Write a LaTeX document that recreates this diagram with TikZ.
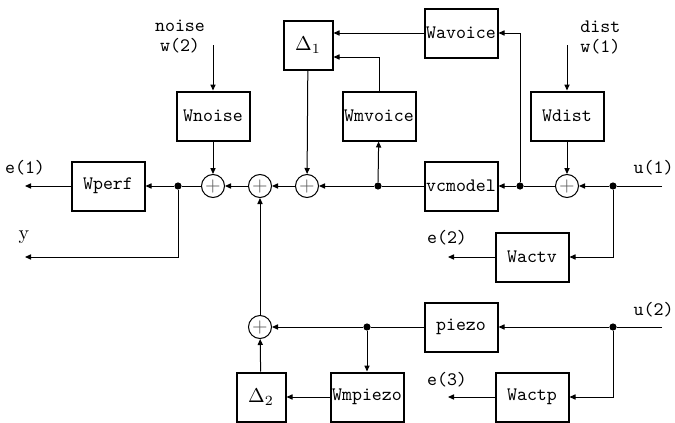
\documentclass[tikz,border=0pt]{standalone}
\usetikzlibrary{arrows.meta}
\tikzset{
    block/.style={
        draw, line width=1pt,
        minimum width=36.5pt, minimum height=24.5pt, inner sep=0pt,
        font=\ttfamily\fontsize{9.5}{11}\selectfont
    },
    delta block/.style={block, minimum width=24.5pt, minimum height=24.5pt, font=\fontsize{10}{12}\selectfont},
    summer/.style={draw, circle, line width=0.5pt, minimum size=11.5pt, inner sep=0pt, text=black!65},
    tap/.style={circle, fill, minimum size=3.6pt, inner sep=0pt},
    wire/.style={line width=0.5pt},
    signal/.style={wire, -{Triangle[length=3pt,width=2.6pt]}},
    port label/.style={font=\ttfamily\fontsize{9.5}{11}\selectfont, inner sep=0pt}
}
\begin{document}
\begin{tikzpicture}[x=0.5pt, y=-0.5pt]
    \useasboundingbox (0,0) rectangle (675,423);
    % blocks
    \node[block] (wperf) at (108,186) {Wperf};
    \node[block] (wnoise) at (213,116) {Wnoise};
    \node[delta block] (delta1) at (308,45) {$\Delta_1$};
    \node[block] (wavoice) at (461,33) {Wavoice};
    \node[block] (wmvoice) at (379,116) {Wmvoice};
    \node[block] (vcmodel) at (461,186) {vcmodel};
    \node[block] (wdist) at (567,116) {Wdist};
    \node[block] (wactv) at (532,257) {Wactv};
    \node[block] (piezo) at (461,327) {piezo};
    \node[block] (wmpiezo) at (367,397) {Wmpiezo};
    \node[block] (wactp) at (532,397) {Wactp};
    \node[delta block] (delta2) at (261,397) {$\Delta_2$};
    % summing junctions
    \node[summer] (sum1) at (213,186) {$+$};
    \node[summer] (sum2) at (260,186) {$+$};
    \node[summer] (sum3) at (307,186) {$+$};
    \node[summer] (sum4) at (567,186) {$+$};
    \node[summer] (sum5) at (260,327) {$+$};
    % branch points
    \node[tap] (tapy) at (178,186) {};
    \node[tap] (tapv) at (378,186) {};
    \node[tap] (tapvc) at (520,186) {};
    \node[tap] (tapu1) at (613,186) {};
    \node[tap] (tapp) at (367,327) {};
    \node[tap] (tapu2) at (613,327) {};
    % ports
    \node[port label, align=center] (noise) at (180,37) {noise\\[-1pt]w(2)};
    \node[port label, align=left, anchor=west] (dist) at (580,37) {dist\\[-1pt]w(1)};
    \node[port label] (e1) at (25,168) {e(1)};
    \node[inner sep=0pt, font=\fontsize{10}{12}\selectfont] (y) at (24,237) {y};
    \node[port label, anchor=east] (u1) at (674,168) {u(1)};
    \node[port label] (e2) at (447,238) {e(2)};
    \node[port label, anchor=east] (u2) at (674,310) {u(2)};
    \node[port label] (e3) at (447,380) {e(3)};
    \coordinate (noisein) at (213,45);
    \coordinate (distin) at (567,45);
    \coordinate (e1end) at (25,186);
    \coordinate (yend) at (25,257);
    \coordinate (u1in) at (662,186);
    \coordinate (e2end) at (448,257);
    \coordinate (u2in) at (662,327);
    \coordinate (e3end) at (448,397);
    % upper loop
    \draw[signal] (noisein) -- (wnoise);
    \draw[signal] (wnoise) -- (sum1);
    \draw[wire] (vcmodel) -- (tapv);
    \draw[signal] (tapv) -- (sum3);
    \draw[signal] (tapv) -- (wmvoice);
    \draw[signal] (wmvoice.north) |- ([yshift=-6pt]delta1.east);
    \draw[signal] (wavoice) -- (delta1.east |- wavoice.west);
    \draw[signal] (delta1) -- (sum3);
    \draw[signal] (sum3) -- (sum2);
    \draw[signal] (sum2) -- (sum1);
    \draw[wire] (sum1) -- (tapy);
    \draw[signal] (tapy) -- (wperf);
    \draw[signal] (wperf) -- (e1end);
    \draw[signal] (tapy) |- (yend);
    \draw[wire] (u1in) -- (tapu1);
    \draw[signal] (tapu1) -- (sum4);
    \draw[signal] (distin) -- (wdist);
    \draw[signal] (wdist) -- (sum4);
    \draw[wire] (sum4) -- (tapvc);
    \draw[signal] (tapvc) -- (vcmodel);
    \draw[signal] (tapvc) |- (wavoice);
    \draw[signal] (tapu1) |- (wactv);
    \draw[signal] (wactv) -- (e2end);
    % lower loop
    \draw[wire] (u2in) -- (tapu2);
    \draw[signal] (tapu2) -- (piezo);
    \draw[wire] (piezo) -- (tapp);
    \draw[signal] (tapp) -- (sum5);
    \draw[signal] (tapp) -- (wmpiezo);
    \draw[signal] (wmpiezo) -- (delta2);
    \draw[signal] (delta2) -- (sum5);
    \draw[signal] (sum5) -- (sum2);
    \draw[signal] (tapu2) |- (wactp);
    \draw[signal] (wactp) -- (e3end);
\end{tikzpicture}
\end{document}
